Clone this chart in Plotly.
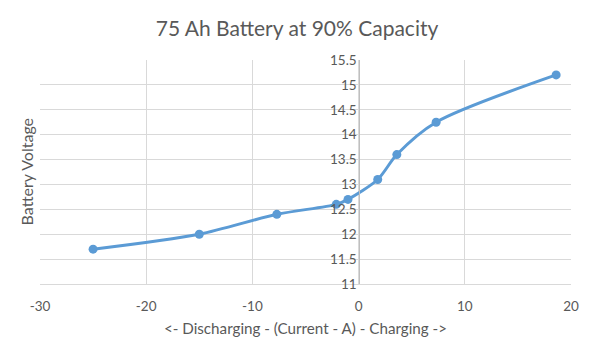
import plotly.graph_objects as go

current_a = [-25, -15, -7.7, -2.1, -1.0, 1.8, 3.6, 7.3, 18.6]
voltage_v = [11.7, 12.0, 12.4, 12.6, 12.7, 13.1, 13.6, 14.25, 15.2]

x_ticks = [-30, -20, -10, 0, 10, 20]
x_tick_labels = ["-30", "-20", "-10", "0", "10", "20"]
y_ticks = [11, 11.5, 12, 12.5, 13, 13.5, 14, 14.5, 15, 15.5]
y_tick_labels = ["11", "11.5", "12", "12.5", "13", "13.5", "14", "14.5", "15", "15.5"]

title_text = "75 Ah Battery at 90% Capacity"
x_title = "<- Discharging - (Current - A) - Charging ->"
y_title = "Battery Voltage"

font_family = "Lato, Open Sans, sans-serif"
text_color = "#595959"
grid_color = "#d9d9d9"
line_color = "#5b9bd5"

fig = go.Figure()
fig.add_trace(go.Scatter(
    x=current_a, y=voltage_v, mode="lines+markers",
    line=dict(color=line_color, width=3, shape="spline", smoothing=0.8),
    marker=dict(color=line_color, size=9),
    showlegend=False, cliponaxis=False,
))

fig.update_layout(
    width=594, height=358,
    margin=dict(l=40, r=23, t=60, b=74, autoexpand=False),
    paper_bgcolor="white", plot_bgcolor="white",
    font=dict(family=font_family, color=text_color, size=13),
    title=dict(text=title_text, x=0.5, xanchor="center", y=0.92, yanchor="middle",
               font=dict(size=21, color=text_color, family=font_family)),
    xaxis=dict(range=[-30, 20], tickvals=x_ticks, ticktext=x_tick_labels,
               showgrid=True, gridcolor=grid_color, gridwidth=1, automargin=False,
               zeroline=False, showline=True, linecolor=grid_color, ticks="", ticklen=0,
               ticklabelstandoff=10,
               title=dict(text=x_title, font=dict(size=15.2, color=text_color), standoff=10),
               tickfont=dict(size=13.5, color=text_color), domain=[0, 1]),
    yaxis=dict(range=[11, 15.5], tickvals=y_ticks, ticktext=y_tick_labels,
               showgrid=True, gridcolor=grid_color, gridwidth=1, automargin=False,
               zeroline=False, showline=True, linecolor="#bfbfbf",
               anchor="free", position=0.6015, ticks="", tickfont=dict(size=13.5, color=text_color)),
    annotations=[dict(text=y_title, textangle=-90, xref="paper", yref="paper",
                      x=-0.004, y=0.5, xanchor="right", yanchor="middle", showarrow=False,
                      font=dict(size=16, color=text_color))],
)

fig.write_html("out.html", config={"displayModeBar": False},
               post_script="document.body.style.margin='0';")
